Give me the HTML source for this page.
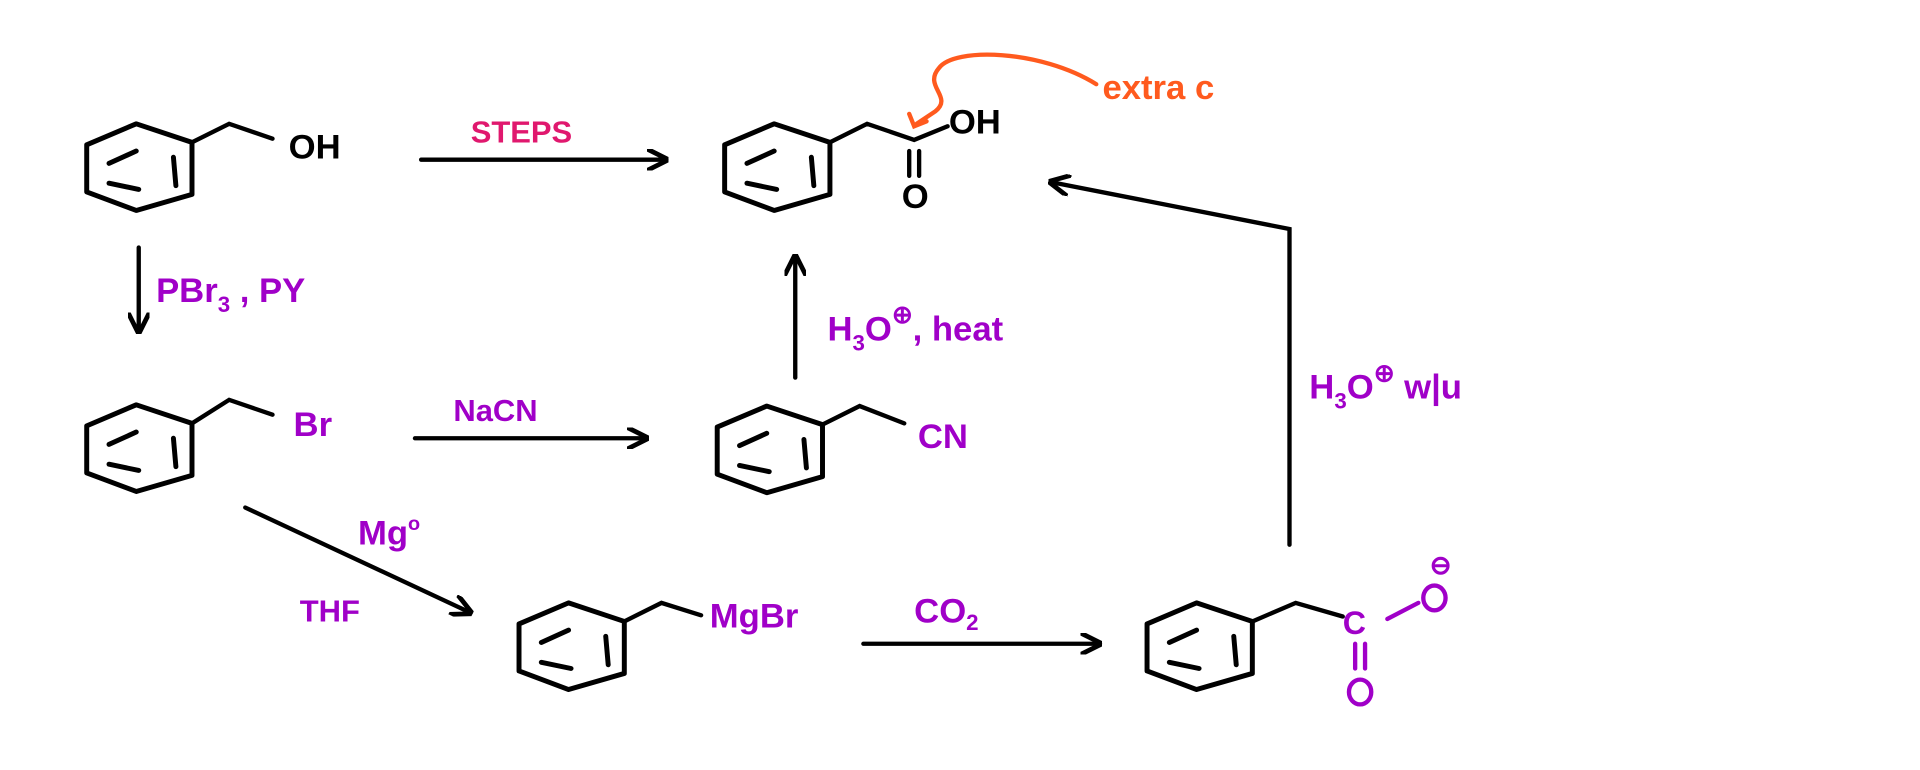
<!DOCTYPE html>
<html><head><meta charset="utf-8"><style>
html,body{margin:0;padding:0;background:#fff;}
svg{display:block}
text{font-family:"Liberation Sans",sans-serif;font-weight:bold}
</style></head><body>
<svg width="1920" height="770" viewBox="0 0 1550 622" preserveAspectRatio="none" xmlns="http://www.w3.org/2000/svg">
<defs>
<g id="bz" fill="none" stroke="#000" stroke-width="4" stroke-linecap="round" stroke-linejoin="round">
<path d="M-2,-33 L43,-18 L43,24 L-2,37 L-42,22 L-42,-16 Z"/>
<path d="M-24,-1 L-2,-11 M28,-6 L30,17 M-24,15 L0,20"/>
</g>
<marker id="ah" viewBox="0 0 10 10" refX="9" refY="5" markerWidth="5" markerHeight="5" orient="auto"><path d="M0,0 L10,5 L0,10" fill="none" stroke="#000" stroke-width="2.2"/></marker>
</defs>
<g fill="none" stroke="#000" stroke-width="3.5" stroke-linecap="round">
<use href="#bz" x="112" y="133"/>
<path d="M155,115 L185,100 L220,112"/>
<use href="#bz" x="627" y="133"/>
<path d="M670,115 L700,100 L738,113 L765,102 M734,122 L734,142 M742,122 L742,142"/>
<use href="#bz" x="112" y="360"/>
<path d="M155,342 L185,323 L220,335"/>
<use href="#bz" x="621" y="361"/>
<path d="M664,343 L694,328 L730,342"/>
<use href="#bz" x="461" y="520"/>
<path d="M504,502 L534,487 L566,497"/>
<use href="#bz" x="968" y="520"/>
<path d="M1011,502 L1046,487 L1084,498"/>
</g>
<g fill="none" stroke="#a000c8" stroke-width="3.5" stroke-linecap="round">
<path d="M1120,500 L1145,487 M1094,520 L1094,540 M1102,520 L1102,540"/>
<ellipse cx="1098" cy="559" rx="9" ry="10"/>
<ellipse cx="1158" cy="483" rx="9" ry="10"/>
<ellipse cx="1163" cy="457" rx="6" ry="6" stroke-width="2.5"/><path d="M1159,457 L1167,457" stroke-width="2.5"/>
</g>
<text x="1084" y="512" fill="#a000c8" font-size="26">C</text>
<g fill="none" stroke="#000" stroke-width="3.5" stroke-linecap="round" marker-end="url(#ah)">
<path d="M340,129 L538,129"/>
<path d="M112,200 L112,268"/>
<path d="M335,354 L522,354"/>
<path d="M642,305 L642,207"/>
<path d="M198,410 L380,495"/>
<path d="M697,520 L888,520"/>
<path d="M1041,440 L1041,185 L848,147"/>
</g>
<path d="M885,68 C840,40 770,38 758,55 C745,70 770,78 755,90 L740,100" fill="none" stroke="#ff5a1e" stroke-width="3.5" stroke-linecap="round"/>
<path d="M734,92 L738,102 L748,98" fill="none" stroke="#ff5a1e" stroke-width="3.5" stroke-linecap="round"/>
<text x="890" y="80" fill="#ff5a1e" font-size="28">extra c</text>
<g font-size="28" fill="#000"><text x="233" y="128">OH</text><text x="766" y="108">OH</text></g>
<text x="728" y="168" fill="#000" font-size="28">O</text>
<g fill="#a000c8" font-size="28">
<text x="126" y="244">PBr<tspan font-size="18" dy="8">3</tspan><tspan dy="-8"> , PY</tspan></text>
<text x="237" y="352">Br</text>
<text x="366" y="340" font-size="25">NaCN</text>
<text x="741" y="362">CN</text>
<text x="668" y="275">H<tspan font-size="18" dy="8">3</tspan><tspan dy="-8">O</tspan><tspan font-size="20" dy="-14">⊕</tspan><tspan dy="14">, heat</tspan></text>
<text x="1057" y="322">H<tspan font-size="18" dy="8">3</tspan><tspan dy="-8">O</tspan><tspan font-size="20" dy="-14">⊕</tspan><tspan dy="14"> w|u</tspan></text>
<text x="289" y="440">Mg<tspan font-size="16" dy="-12">o</tspan></text>
<text x="242" y="502" font-size="25">THF</text>
<text x="573" y="507">MgBr</text>
<text x="738" y="503">CO<tspan font-size="18" dy="6">2</tspan></text>
</g>
<text x="380" y="115" fill="#e0186e" font-size="25">STEPS</text>
</svg>
</body></html>
